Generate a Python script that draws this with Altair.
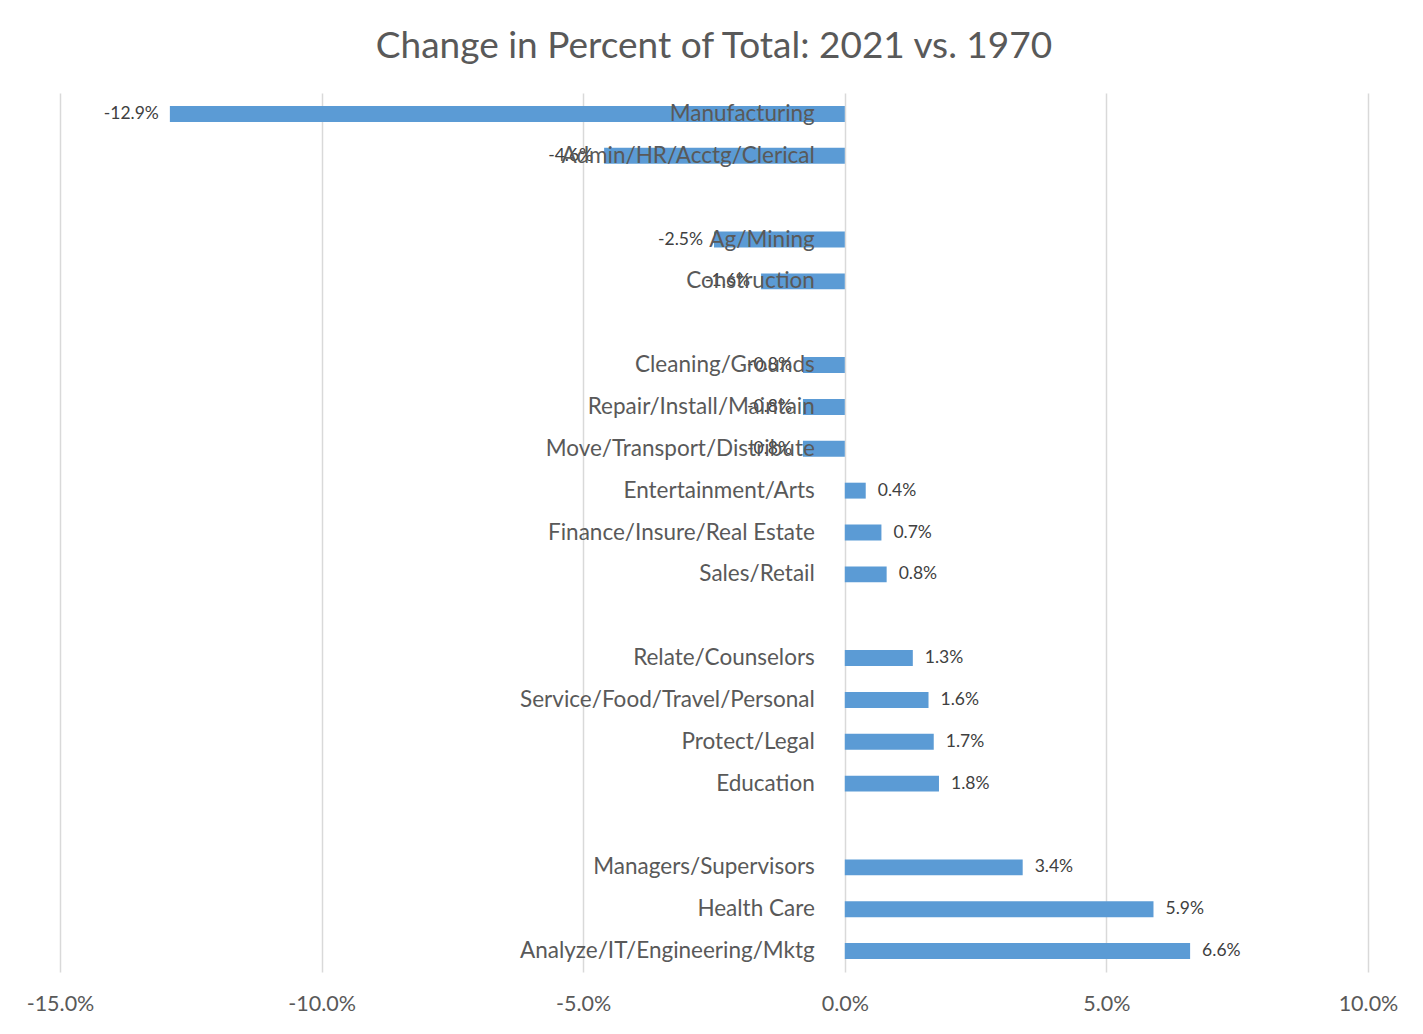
import altair as alt
import pandas as pd

rows = [
    "Manufacturing", "Admin/HR/Acctg/Clerical", "_b1", "Ag/Mining", "Construction", "_b2",
    "Cleaning/Grounds", "Repair/Install/Maintain", "Move/Transport/Distribute",
    "Entertainment/Arts", "Finance/Insure/Real Estate", "Sales/Retail", "_b3",
    "Relate/Counselors", "Service/Food/Travel/Personal", "Protect/Legal", "Education", "_b4",
    "Managers/Supervisors", "Health Care", "Analyze/IT/Engineering/Mktg",
]
categories = [
    "Manufacturing", "Admin/HR/Acctg/Clerical", "Ag/Mining", "Construction",
    "Cleaning/Grounds", "Repair/Install/Maintain", "Move/Transport/Distribute",
    "Entertainment/Arts", "Finance/Insure/Real Estate", "Sales/Retail",
    "Relate/Counselors", "Service/Food/Travel/Personal", "Protect/Legal", "Education",
    "Managers/Supervisors", "Health Care", "Analyze/IT/Engineering/Mktg",
]
values = [-12.9, -4.6, -2.5, -1.6, -0.8, -0.8, -0.8, 0.4, 0.7, 0.8,
          1.3, 1.6, 1.7, 1.8, 3.4, 5.9, 6.6]
x_ticks = [-15, -10, -5, 0, 5, 10]

df = pd.DataFrame({"cat": categories, "val": values})
df["frac"] = df["val"] / 100
df["label"] = [f"{v:.1f}%" for v in values]
df["zero"] = 0.0

FONT = "Lato"

x_scale = alt.Scale(domain=[-0.15, 0.10], nice=False, zero=False)
y_enc = alt.Y("cat:N", sort=rows,
              scale=alt.Scale(domain=rows, paddingInner=0.62, paddingOuter=0.31),
              axis=None)

bars = alt.Chart(df).mark_bar(color="#5B9BD5").encode(
    x=alt.X("frac:Q", scale=x_scale,
            axis=alt.Axis(values=[t / 100 for t in x_ticks],
                          labelExpr="replace(format(datum.value, '.1%'), '\u2212', '-')",
                          grid=True, gridColor="#D9D9D9", gridWidth=1.5,
                          domain=False, ticks=False, labelPadding=21,
                          labelFlush=False, labelOverlap=False,
                          labelFontSize=21.5, labelColor="#595959", labelFont=FONT,
                          title=None)),
    x2="zero:Q",
    y=y_enc,
)

neg_labels = alt.Chart(df[df["val"] < 0]).mark_text(
    align="right", baseline="middle", dx=-11, fontSize=17.5, color="#404040", font=FONT
).encode(x="frac:Q", y=y_enc, text="label:N")

pos_labels = alt.Chart(df[df["val"] >= 0]).mark_text(
    align="left", baseline="middle", dx=12, fontSize=17.5, color="#404040", font=FONT
).encode(x="frac:Q", y=y_enc, text="label:N")

cat_labels = alt.Chart(df).mark_text(
    align="right", baseline="middle", dx=-30, fontSize=22.5, color="#595959", font=FONT
).encode(x="zero:Q", y=y_enc, text="cat:N")

chart = alt.layer(bars, neg_labels, pos_labels, cat_labels).properties(
    width=1308, height=879,
    autosize=alt.AutoSizeParams(type="none"),
    padding={"left": 52, "top": 85, "right": 47, "bottom": 50},
    title=alt.TitleParams("Change in Percent of Total: 2021 vs. 1970",
                          fontSize=37, font=FONT, fontWeight="normal",
                          color="#595959", anchor="middle", offset=27),
).configure_view(stroke=None)

chart.save("out.html", embed_options={"renderer": "svg", "actions": False})
